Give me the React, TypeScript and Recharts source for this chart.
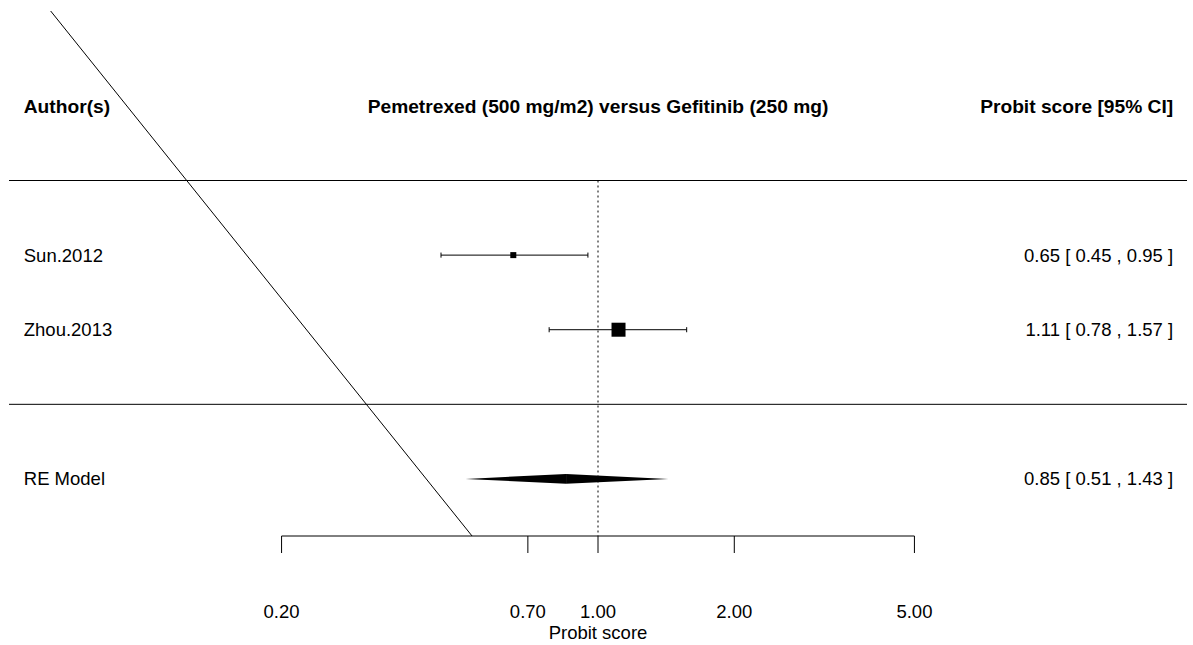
import { ComposedChart, Label, ReferenceArea, ReferenceLine, Scatter, XAxis, YAxis } from 'recharts'

// study rows (top to bottom)
const studies = ['Sun.2012', 'Zhou.2013']
const studyRows = [2, 1]
const estimates = [0.65, 1.11]
const lowerCI = [0.45, 0.78]
const upperCI = [0.95, 1.57]
const weights = [36, 64]

// random-effects summary
const summaryLabel = 'RE Model'
const summaryRow = -1
const summaryEstimate = 0.85
const summaryLower = 0.51
const summaryUpper = 1.43

const headers = ['Author(s)', 'Pemetrexed (500 mg/m2) versus Gefitinib (250 mg)', 'Probit score [95% CI]']
const headerRow = 4
const dividerRows = [3, 0]
const xTicks = [0.2, 0.7, 1, 2, 5]
const axisTitle = 'Probit score'

// stray diagonal line in the original figure, in data units
const slantLine = [
	{ x: 0.0618, y: 5.272 },
	{ x: 0.527, y: -1.765 },
]

const FONT = '"Liberation Sans", Arial, Helvetica, sans-serif'
const FS = 18.5
const FS_BOLD = 19.2
const X_DOMAIN: [number, number] = [0.05, 20]
const Y_DOMAIN: [number, number] = [-1.765, 5.272]
const AXIS_ROW = Y_DOMAIN[0]
const LEFT_X = 0.0539
const RIGHT_X = 18.64
const CAP = 0.034
const DIAMOND_HALF = 0.066

const fmt = (v: number) => v.toFixed(2)
const ciText = (e: number, l: number, u: number) => `${fmt(e)} [ ${fmt(l)} , ${fmt(u)} ]`

const wMin = Math.min(...weights)
const wMax = Math.max(...weights)
const pointData = studies.map((_, i) => ({
	x: estimates[i],
	y: studyRows[i],
	size: 6 + (8 * (weights[i] - wMin)) / (wMax - wMin || 1),
}))

const textData = [
	{ x: LEFT_X, y: headerRow, text: headers[0], anchor: 'start', bold: true },
	{ x: 1, y: headerRow, text: headers[1], anchor: 'middle', bold: true },
	{ x: RIGHT_X, y: headerRow, text: headers[2], anchor: 'end', bold: true },
	...studies.flatMap((s, i) => [
		{ x: LEFT_X, y: studyRows[i], text: s, anchor: 'start', bold: false },
		{ x: RIGHT_X, y: studyRows[i], text: ciText(estimates[i], lowerCI[i], upperCI[i]), anchor: 'end', bold: false },
	]),
	{ x: LEFT_X, y: summaryRow, text: summaryLabel, anchor: 'start', bold: false },
	{ x: RIGHT_X, y: summaryRow, text: ciText(summaryEstimate, summaryLower, summaryUpper), anchor: 'end', bold: false },
]

function TextMark(props: any) {
	const { cx, cy, payload } = props
	return (
		<text
			x={cx}
			y={cy}
			dy="0.35em"
			textAnchor={payload.anchor}
			fontFamily={FONT}
			fontSize={payload.bold ? FS_BOLD : FS}
			fontWeight={payload.bold ? 'bold' : 'normal'}
			fill="#000"
		>
			{payload.text}
		</text>
	)
}

function SquareMark(props: any) {
	const { cx, cy, payload } = props
	const s = payload.size
	return <rect x={cx - s / 2} y={cy - s / 2} width={s} height={s} fill="#000" />
}

function AxisTick(props: any) {
	const { x, y, payload } = props
	return (
		<g>
			<line x1={x} x2={x} y1={y} y2={y + 17} stroke="#000" />
			<text x={x} y={y + 82} textAnchor="middle" fontFamily={FONT} fontSize={FS} fill="#000">
				{fmt(payload.value)}
			</text>
		</g>
	)
}

const leftHalf = (p: any) => {
	const { x, y, width, height } = p
	return <polygon points={`${x},${y + height / 2} ${x + width},${y} ${x + width},${y + height}`} fill="#000" />
}
const rightHalf = (p: any) => {
	const { x, y, width, height } = p
	return <polygon points={`${x},${y} ${x + width},${y + height / 2} ${x},${y + height}`} fill="#000" />
}

export default function App() {
	return (
		<div style={{ position: 'absolute', left: 0, top: 0, background: '#fff' }}>
			<ComposedChart width={1193} height={645} margin={{ top: 11, right: 6, bottom: 0, left: 9 }}>
				<XAxis
					type="number"
					dataKey="x"
					scale="log"
					domain={X_DOMAIN}
					allowDataOverflow
					ticks={xTicks}
					interval={0}
					axisLine={false}
					tickLine={false}
					tickSize={0}
					tickMargin={0}
					height={109}
					tick={<AxisTick />}
				>
					<Label
						content={(p: any) => {
							const vb = p.viewBox
							return (
								<text
									x={vb.x + vb.width / 2}
									y={vb.y + 103}
									textAnchor="middle"
									fontFamily={FONT}
									fontSize={FS}
									fill="#000"
								>
									{axisTitle}
								</text>
							)
						}}
					/>
				</XAxis>
				<YAxis type="number" dataKey="y" domain={Y_DOMAIN} allowDataOverflow hide />

				{dividerRows.map((r) => (
					<ReferenceLine key={`div${r}`} y={r} stroke="#000" ifOverflow="visible" />
				))}

				<ReferenceLine
					segment={[
						{ x: 1, y: dividerRows[0] },
						{ x: 1, y: AXIS_ROW },
					]}
					stroke="#000"
					strokeDasharray="2 3"
					ifOverflow="visible"
				/>

				<ReferenceLine
					segment={[
						{ x: xTicks[0], y: AXIS_ROW },
						{ x: xTicks[xTicks.length - 1], y: AXIS_ROW },
					]}
					stroke="#000"
					ifOverflow="visible"
				/>

				<ReferenceLine segment={slantLine} stroke="#000" ifOverflow="visible" />

				{studies.map((s, i) => (
					<ReferenceLine
						key={`ci${s}`}
						segment={[
							{ x: lowerCI[i], y: studyRows[i] },
							{ x: upperCI[i], y: studyRows[i] },
						]}
						stroke="#000"
						ifOverflow="visible"
					/>
				))}
				{studies.flatMap((s, i) =>
					[lowerCI[i], upperCI[i]].map((v, j) => (
						<ReferenceLine
							key={`cap${s}${j}`}
							segment={[
								{ x: v, y: studyRows[i] - CAP },
								{ x: v, y: studyRows[i] + CAP },
							]}
							stroke="#000"
							ifOverflow="visible"
						/>
					)),
				)}

				<ReferenceArea
					x1={summaryLower}
					x2={summaryEstimate}
					y1={summaryRow - DIAMOND_HALF}
					y2={summaryRow + DIAMOND_HALF}
					shape={leftHalf}
					ifOverflow="visible"
				/>
				<ReferenceArea
					x1={summaryEstimate}
					x2={summaryUpper}
					y1={summaryRow - DIAMOND_HALF}
					y2={summaryRow + DIAMOND_HALF}
					shape={rightHalf}
					ifOverflow="visible"
				/>

				<Scatter data={pointData} shape={<SquareMark />} isAnimationActive={false} />
				<Scatter data={textData} shape={<TextMark />} isAnimationActive={false} />
			</ComposedChart>
		</div>
	)
}
